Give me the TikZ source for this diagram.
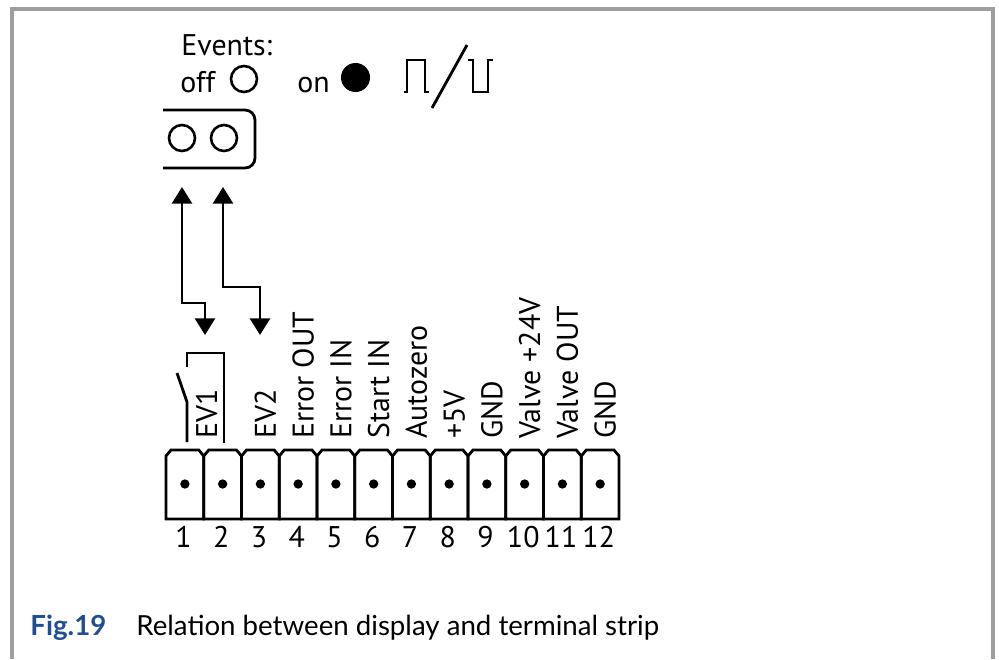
\documentclass[tikz,border=0pt]{standalone}
\usepackage{fontspec}
\setmainfont{PT Sans}
\newfontfamily\capfont{Lato}
\usetikzlibrary{arrows.meta}
\definecolor{framegray}{HTML}{9E9E9E}
\definecolor{figblue}{HTML}{1F4E96}
\newcommand{\labfont}{\fontsize{25.5pt}{28pt}\selectfont}
\newcommand{\capsize}{\fontsize{23.6pt}{27pt}\selectfont}

\begin{document}
\begin{tikzpicture}[x=0.03cm,y=-0.03cm,line width=2.4pt,
  hole/.style={circle,draw,line width=2.2pt,minimum size=0.78cm,inner sep=0},
  pin/.style={circle,fill,minimum size=0.28cm,inner sep=0},
  txt/.style={font=\labfont,inner sep=0,anchor=base west},
  lab/.style={font=\labfont,inner sep=0,rotate=90,anchor=base west},
  num/.style={font=\labfont,inner sep=0},
  evarrow/.style={{Triangle[width=0.6cm,length=0.5cm]}-{Triangle[width=0.6cm,length=0.5cm]}}]
\useasboundingbox (0,0) rectangle (999,659);
% frame
\draw[framegray,line width=2.6pt] (12,659) -- (12,9) -- (993,9) -- (993,659);
% display legend
\node[txt] (events) at (180,55) {Events:};
\node[txt] (off) at (179,92) {off};
\node[hole] (offdot) at (244,79) {};
\node[txt] (on) at (296,92) {on};
\node[circle,fill,minimum size=0.87cm,inner sep=0] (ondot) at (355.5,77.5) {};
% pulse symbols
\draw (404,92) -- (407,92) -- (407,60) -- (425,60) -- (425,92) -- (429,92);
\draw (432,108) -- (467,45);
\draw (468,60) -- (473,60) -- (473,92) -- (488,92) -- (488,60) -- (493,60);
% connector
\draw[rounded corners=0.3cm] (163,110) -- (255,110) -- (255,168) -- (163,168);
\node[hole] (c1) at (182,138) {};
\node[hole] (c2) at (224,138) {};
% arrows
\coordinate (u1) at (182,187);
\coordinate (k1) at (205,303);
\coordinate (t1) at (205,335);
\coordinate (u2) at (223,187);
\coordinate (k2) at (260,287);
\coordinate (t2) at (260,335);
\draw[evarrow] (u1) |- (k1) -- (t1);
\draw[evarrow] (u2) |- (k2) -- (t2);
% relay contact EV1
\draw (177,373) -- (187,402) -- (187,442);
\draw (187,367) -- (187,353) -- (224,353) -- (224,443);
% terminal strip
\foreach \i in {1,...,12} {
  \pgfmathsetmacro{\xl}{166+(\i-1)*37.75}
  \pgfmathsetmacro{\xr}{\xl+37.75}
  \draw (\xl,519) -- (\xl,456) -- (\xl+5,450) -- (\xr-5,450) -- (\xr,456) -- (\xr,519) -- cycle;
  \node[pin] (pin\i) at (\xl+18.9,484) {};
  \node[num] (num\i) at (\xl+17.5,537) {\i};
}
% labels
\node[lab] (lab1) at (217,440) {EV1};
\foreach \i/\t in {3/EV2,4/Error OUT,5/Error IN,6/Start IN,7/Autozero,8/+5V,9/GND,10/Valve +24V,11/Valve OUT,12/GND} {
  \pgfmathsetmacro{\xb}{166+(\i-0.5)*37.75+15.5}
  \node[lab] (lab\i) at (\xb,440) {\t};
}
% caption
\node[font=\capfont\capsize\bfseries,text=figblue,inner sep=0,anchor=base west] (fig) at (29,635) {Fig.19};
\node[font=\capfont\capsize,inner sep=0,anchor=base west] (cap) at (135,635) {Relation between display and terminal strip};
\end{tikzpicture}
\end{document}
